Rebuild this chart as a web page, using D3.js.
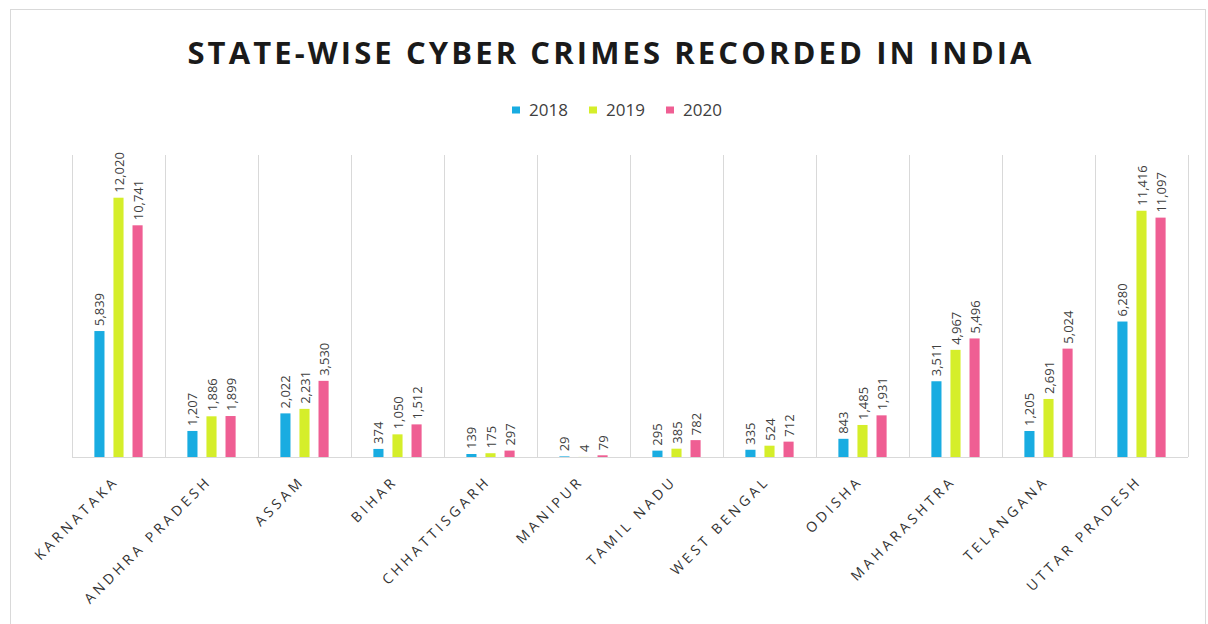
<!DOCTYPE html>
<html>
<head>
<meta charset="utf-8">
<script src="https://cdn.jsdelivr.net/npm/d3@7"></script>
<style>
body { margin: 0; background: #fff; }
text { font-family: "Open Sans", sans-serif; }
</style>
</head>
<body>
<svg width="1208" height="624"></svg>
<script>
// data
var states = ["KARNATAKA", "ANDHRA PRADESH", "ASSAM", "BIHAR", "CHHATTISGARH", "MANIPUR",
  "TAMIL NADU", "WEST BENGAL", "ODISHA", "MAHARASHTRA", "TELANGANA", "UTTAR PRADESH"];
var years = ["2018", "2019", "2020"];
var v2018 = [5839, 1207, 2022, 374, 139, 29, 295, 335, 843, 3511, 1205, 6280];
var v2019 = [12020, 1886, 2231, 1050, 175, 4, 385, 524, 1485, 4967, 2691, 11416];
var v2020 = [10741, 1899, 3530, 1512, 297, 79, 782, 712, 1931, 5496, 5024, 11097];
var colors = ["#19ace1", "#d5ee2a", "#ef5e93"];

var series = [v2018, v2019, v2020];

var svg = d3.select("svg"),
margin = {top: 155, right: 20, bottom: 167, left: 72},
width = +svg.attr("width") - margin.left - margin.right,
height = +svg.attr("height") - margin.top - margin.bottom;

// outer frame
svg.append("rect")
  .attr("x", 10.5).attr("y", 9.5)
  .attr("width", 1195).attr("height", 640)
  .attr("fill", "none").attr("stroke", "#d9d9d9");

svg.append("text")
  .attr("x", 611).attr("y", 64)
  .attr("text-anchor", "middle")
  .attr("font-size", 31)
  .attr("font-weight", "bold")
  .attr("letter-spacing", 3.1)
  .attr("fill", "#1a1a1a")
  .text("STATE-WISE CYBER CRIMES RECORDED IN INDIA");

var x = d3.scaleBand().domain(states).range([0, width]).padding(0),
    x1 = d3.scaleBand().domain(years).range([18, x.bandwidth() - 18]).paddingInner(0.47).paddingOuter(0.23),
    y = d3.scaleLinear().domain([0, 14000]).range([height, 0]);

var g = svg.append("g").attr("transform", "translate(" + margin.left + "," + margin.top + ")");

// category separators
g.selectAll(".sep")
  .data(d3.range(states.length + 1))
  .enter().append("line")
  .attr("x1", function(i) { return Math.round(i * x.bandwidth()) + 0.5; })
  .attr("x2", function(i) { return Math.round(i * x.bandwidth()) + 0.5; })
  .attr("y1", 0).attr("y2", height)
  .attr("stroke", "#d9d9d9");

g.append("line")
  .attr("x1", 0).attr("x2", width)
  .attr("y1", height + 0.5).attr("y2", height + 0.5)
  .attr("stroke", "#d9d9d9");

var groups = g.selectAll(".state")
  .data(states)
  .enter().append("g")
  .attr("transform", function(d) { return "translate(" + x(d) + ",0)"; });

groups.selectAll("rect")
  .data(function(d, i) { return years.map(function(yr, k) { return {year: yr, k: k, value: series[k][i]}; }); })
  .enter().append("rect")
  .attr("x", function(d) { return x1(d.year); })
  .attr("y", function(d) { return y(d.value); })
  .attr("width", x1.bandwidth())
  .attr("height", function(d) { return height - y(d.value); })
  .attr("fill", function(d) { return colors[d.k]; });

groups.selectAll(".lbl")
  .data(function(d, i) { return years.map(function(yr, k) { return {year: yr, k: k, value: series[k][i]}; }); })
  .enter().append("text")
  .attr("transform", function(d) {
    return "translate(" + (x1(d.year) + x1.bandwidth() / 2 + 5) + "," + (y(d.value) - 5) + ") rotate(-90)";
  })
  .attr("font-size", 13)
  .attr("fill", "#404040")
  .text(function(d) { return d3.format(",")(d.value); });

// x labels
g.selectAll(".xl")
  .data(states)
  .enter().append("text")
  .attr("transform", function(d) {
    return "translate(" + (x(d) + x.bandwidth() / 2 + 1) + "," + (height + 25) + ") rotate(-45)";
  })
  .attr("text-anchor", "end")
  .attr("font-size", 14)
  .attr("letter-spacing", 3.6)
  .attr("fill", "#333")
  .text(function(d) { return d; });

// legend
var legend = svg.append("g").attr("transform", "translate(512,110)");
var li = legend.selectAll("g")
  .data(years)
  .enter().append("g")
  .attr("transform", function(d, i) { return "translate(" + (i * 77) + ",0)"; });
li.append("rect").attr("x", 0).attr("y", -3.5).attr("width", 8).attr("height", 7)
  .attr("fill", function(d, i) { return colors[i]; });
li.append("text").attr("x", 17).attr("y", 6)
  .attr("font-size", 17).attr("fill", "#404040")
  .text(function(d) { return d; });
</script>
</body>
</html>
